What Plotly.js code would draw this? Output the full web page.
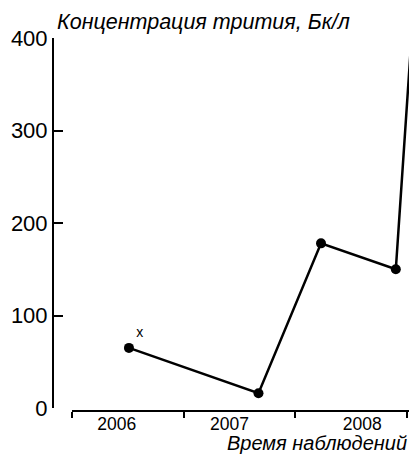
<!DOCTYPE html>
<html>
<head>
<meta charset="utf-8">
<script src="https://cdn.plot.ly/plotly-3.0.1.min.js"></script>
<style>html,body{margin:0;padding:0;background:#fff;}#chart{width:409px;height:454px;}</style>
</head>
<body>
<div id="chart"></div>
<script>
// Observation times (fractional years) and tritium concentration, Bq/L
const obsTime = [2006.51, 2007.67, 2008.23, 2008.90, 2009.06];
const tritium = [65, 16, 178, 150, 436];
const pointNotes = ['x', '', '', '', ''];
// Year boundaries (ticks) and year labels
const yearBounds = [2006, 2007, 2008, 2009];
const yearLabelPos = [2006.40, 2007.41, 2008.60];
const yearLabels = ['2006', '2007', '2008'];
const yTicks = [0, 100, 200, 300, 400];

const font = 'Liberation Sans, Arial, sans-serif';

const trace = {
  x: obsTime, y: tritium, type: 'scatter', mode: 'lines+markers+text',
  line: {color: '#000', width: 2.5},
  marker: {color: '#000', size: 10},
  text: pointNotes, textposition: 'top right',
  textfont: {family: font, size: 14, color: '#000'},
  cliponaxis: true,
  hoverinfo: 'skip', showlegend: false
};

const layout = {
  width: 409, height: 454,
  margin: {l: 53, r: 0, t: 38, b: 43},
  paper_bgcolor: '#fff', plot_bgcolor: '#fff',
  showlegend: false,
  title: {
    text: 'Концентрация трития, Бк/л',
    font: {family: font, size: 21.5, style: 'italic', color: '#000'},
    x: 57/409, xanchor: 'left', xref: 'container',
    y: 1 - 21/454, yanchor: 'middle', yref: 'container'
  },
  xaxis: {
    domain: [19/356, 1], anchor: 'free', position: 0,
    range: [2006, 2009.018], type: 'linear',
    showgrid: false, zeroline: false,
    showline: true, linecolor: '#000', linewidth: 2,
    tickmode: 'array', tickvals: yearBounds, ticktext: yearBounds.map(() => ''),
    ticks: 'outside', ticklen: 6, tickwidth: 2, tickcolor: '#000'
  },
  xaxis2: {
    domain: [19/356, 1], anchor: 'free', position: 0, overlaying: 'x', matches: 'x',
    range: [2006, 2009.018], type: 'linear',
    showgrid: false, zeroline: false, showline: false,
    tickmode: 'array', tickvals: yearLabelPos, ticktext: yearLabels,
    ticks: '', ticklabelstandoff: 0,
    tickfont: {family: font, size: 17.5, color: '#000'}
  },
  yaxis: {
    domain: [3/373, 1], anchor: 'free', position: 0,
    range: [0, 400], showgrid: false, zeroline: false,
    showline: true, linecolor: '#000', linewidth: 2,
    tickmode: 'array', tickvals: yTicks,
    ticks: 'inside', ticklen: 9, tickwidth: 2, tickcolor: '#000',
    ticklabelstandoff: 0,
    tickfont: {family: font, size: 22, color: '#000'}
  },
  annotations: [{
    text: 'Время наблюдений', xref: 'paper', yref: 'paper',
    x: 1, xanchor: 'right', y: -32/373, yanchor: 'middle', showarrow: false,
    font: {family: font, size: 20, style: 'italic', color: '#000'}
  }]
};

const dummy = {x: [2006.5], y: [0], xaxis: 'x2', type: 'scatter', mode: 'markers',
  marker: {opacity: 0}, hoverinfo: 'skip', showlegend: false};

Plotly.newPlot('chart', [trace, dummy], layout, {displayModeBar: false, staticPlot: true});
</script>
</body>
</html>
